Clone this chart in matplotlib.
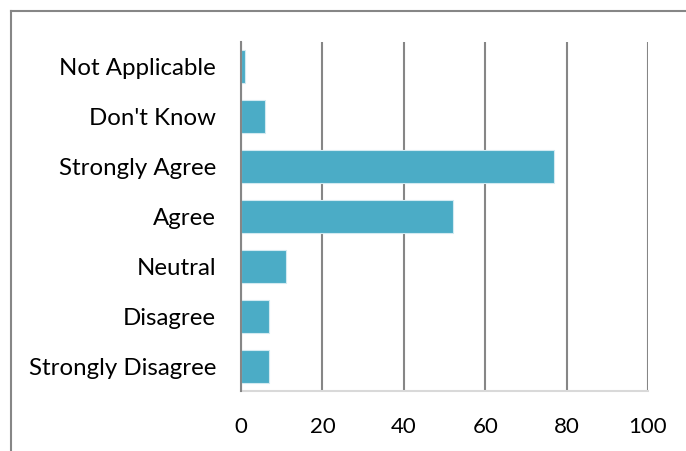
import matplotlib.pyplot as plt
from matplotlib.lines import Line2D

# survey responses, top to bottom as shown
categories = ['Not Applicable', "Don't Know", 'Strongly Agree', 'Agree',
              'Neutral', 'Disagree', 'Strongly Disagree']
counts = [1, 6, 77, 52, 11, 7, 7]
xticks = [0, 20, 40, 60, 80, 100]

plt.rcParams['font.family'] = ['Lato', 'DejaVu Sans']

fig = plt.figure(figsize=(6.86, 4.51), dpi=100)
ax = fig.add_axes([0.3513, 0.1330, 0.5933, 0.7739])

ypos = list(range(len(categories)))[::-1]
ax.barh(ypos, counts, height=0.66, color='#4BACC6', edgecolor='#D2EAF1', linewidth=0.8, zorder=3)

ax.set_xlim(0, 100)
ax.set_ylim(-0.5, len(categories) - 0.5)
ax.set_xticks(xticks)
ax.set_yticks(ypos)
ax.set_yticklabels(categories)
ax.tick_params(axis='y', length=0, pad=18, labelsize=17.3)
ax.tick_params(axis='x', length=0, pad=19, labelsize=16)

ax.grid(axis='x', color='#868686', linewidth=1.5, zorder=1)
for s in ['top', 'right']:
    ax.spines[s].set_visible(False)
ax.spines['left'].set_color('#868686')
ax.spines['left'].set_linewidth(1.5)
ax.spines['left'].set_zorder(4)
ax.spines['bottom'].set_color('#D9D9D9')
ax.spines['bottom'].set_linewidth(1.5)

# outer frame (top and left edges only visible)
fig.add_artist(Line2D([10.5 / 686, 1], [1 - 11 / 451, 1 - 11 / 451], color='#868686', linewidth=1.5))
fig.add_artist(Line2D([10.5 / 686, 10.5 / 686], [0, 1 - 11 / 451], color='#868686', linewidth=1.5))

fig.savefig('out.png', dpi=100)
